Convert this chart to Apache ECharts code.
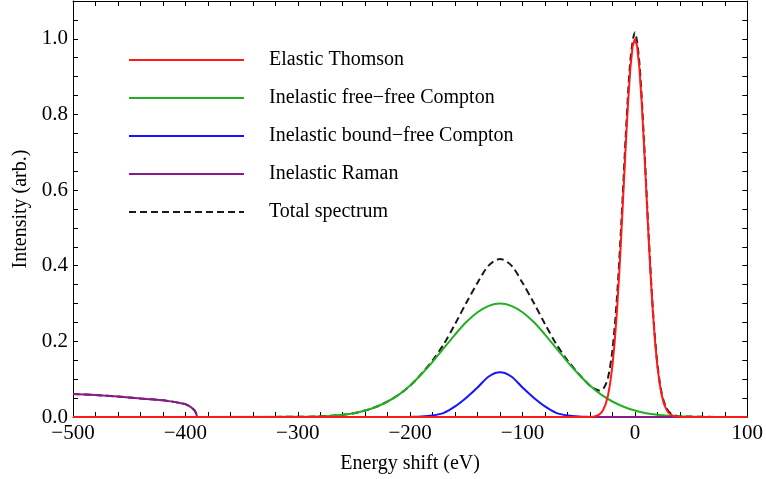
<!DOCTYPE html>
<html>
<head>
<meta charset="utf-8">
<script src="https://cdn.jsdelivr.net/npm/echarts@6/dist/echarts.min.js"></script>
<style>
  html, body { margin: 0; padding: 0; background: #fff; }
  #chart { width: 766px; height: 479px; }
</style>
</head>
<body>
<div id="chart"></div>
<script>
// energy shift (eV) and intensities
var thomsonShift = [-500, -40, -38, -36, -34, -32, -30, -28, -26, -24, -22, -20, -18, -16, -14, -12, -10, -8, -6, -4, -2,
    0, 2, 4, 6, 8, 10, 12, 14, 16, 18, 20, 22, 24, 26, 28, 30, 32, 34, 36, 38, 40, 100];
var thomson = [0, 0.0003, 0.0007, 0.0015, 0.0031, 0.006, 0.011, 0.020, 0.034, 0.056, 0.089, 0.135, 0.198, 0.278, 0.375, 0.487, 0.607, 0.726, 0.835, 0.923, 0.980,
    1.000, 0.980, 0.923, 0.835, 0.726, 0.607, 0.487, 0.375, 0.278, 0.198, 0.135, 0.089, 0.056, 0.034, 0.020, 0.011, 0.006, 0.0031, 0.0015, 0.0007, 0.0003, 0];

var comptonShift = [-500, -300, -290, -280, -270, -260, -250, -240, -230, -220, -210, -200, -190, -180, -170, -160, -150, -140, -130,
    -120, -110, -100, -90, -80, -70, -60, -50, -40, -30, -20, -10, 0, 10, 20, 30, 40, 50, 60, 100];
var freeFree = [0, 0.0005, 0.0009, 0.0018, 0.0033, 0.006, 0.010, 0.017, 0.027, 0.041, 0.059, 0.083, 0.113, 0.146, 0.182, 0.218, 0.251, 0.277, 0.294,
    0.300, 0.294, 0.277, 0.251, 0.218, 0.182, 0.146, 0.113, 0.083, 0.059, 0.041, 0.027, 0.017, 0.010, 0.006, 0.0033, 0.0018, 0.0009, 0.0005, 0];

var boundShift = [-500, -210, -200, -190, -180, -170, -160, -150, -140, -130, -120, -110, -100, -90, -80, -70, -60, -50, -40, -30, 100];
var boundFree = [0, 0, 0.0003, 0.001, 0.004, 0.011, 0.028, 0.051, 0.078, 0.107, 0.118, 0.107, 0.078, 0.051, 0.028, 0.011, 0.004, 0.001, 0.0003, 0, 0];

var ramanShift = [-500, -480, -460, -440, -420, -410, -405, -400, -395, -392, -390.5, -389.5, 100];
var raman = [0.061, 0.058, 0.054, 0.049, 0.044, 0.040, 0.037, 0.034, 0.026, 0.018, 0.010, 0, 0];

var totalShift = [-500, -480, -460, -440, -420, -410, -405, -400, -395, -392, -390.5, -389.5,
    -300, -290, -280, -270, -260, -250, -240, -230, -220, -210, -200, -190, -180, -170, -160, -150, -140, -130,
    -120, -110, -100, -90, -80, -70, -60, -50, -44, -40, -36, -32, -28, -24, -20, -16, -12, -8, -4,
    0, 4, 8, 12, 16, 20, 24, 28, 32, 36, 40, 50, 60, 100];
var total = [0.061, 0.058, 0.054, 0.049, 0.044, 0.040, 0.037, 0.034, 0.026, 0.018, 0.010, 0,
    0.0005, 0.0009, 0.0018, 0.0033, 0.006, 0.010, 0.017, 0.027, 0.041, 0.059, 0.083, 0.114, 0.150, 0.193, 0.246, 0.302, 0.355, 0.401,
    0.418, 0.401, 0.355, 0.302, 0.246, 0.193, 0.150, 0.114, 0.095, 0.083, 0.075, 0.070, 0.075, 0.103, 0.176, 0.313, 0.516, 0.750, 0.943,
    1.017, 0.937, 0.737, 0.496, 0.285, 0.141, 0.061, 0.024, 0.009, 0.004, 0.002, 0.001, 0.0005, 0];

var names = ['Elastic Thomson', 'Inelastic free\u2212free Compton', 'Inelastic bound\u2212free Compton', 'Inelastic Raman', 'Total spectrum'];

function pairs(xs, ys) {
    return xs.map(function (x, i) { return [x, ys[i]]; });
}

var font = '"Liberation Serif", "Times New Roman", serif';
var myChart = echarts.init(document.getElementById('chart'));

function frameX(pos, show) {
    return {
        type: 'value', position: pos, min: -500, max: 100, interval: 20,
        axisLine: { show: true, onZero: false, lineStyle: { color: '#000', width: 1 } },
        axisTick: { show: true, inside: true, length: 5, lineStyle: { color: '#000' } },
        axisLabel: {
            show: show, margin: 6, color: '#000', fontFamily: font, fontSize: 21,
            formatter: function (v) {
                if (v % 100 !== 0) return '';
                return v < 0 ? '\u2212' + (-v) : String(v);
            }
        },
        splitLine: { show: false }
    };
}

function frameY(pos, show) {
    return {
        type: 'value', position: pos, min: 0, max: 1.1, interval: 0.05,
        axisLine: { show: true, onZero: false, lineStyle: { color: '#000', width: 1 } },
        axisTick: { show: true, inside: true, length: 5, lineStyle: { color: '#000' } },
        axisLabel: {
            show: show, margin: 5, color: '#000', fontFamily: font, fontSize: 21,
            formatter: function (v) {
                var k = Math.round(v * 100);
                if (k % 20 !== 0 || k > 100) return '';
                return v.toFixed(1);
            }
        },
        splitLine: { show: false }
    };
}

var xBottom = frameX('bottom', true);
xBottom.name = 'Energy shift (eV)';
xBottom.nameLocation = 'middle';
xBottom.nameGap = 37;
xBottom.nameTextStyle = { color: '#000', fontFamily: font, fontSize: 20 };

var yLeft = frameY('left', true);
yLeft.name = 'Intensity (arb.)';
yLeft.nameLocation = 'middle';
yLeft.nameGap = 41;
yLeft.nameTextStyle = { color: '#000', fontFamily: font, fontSize: 20 };

function line(name, data, color, z, smooth, dashed) {
    return {
        name: name, type: 'line', data: data, xAxisIndex: 0, yAxisIndex: 0,
        showSymbol: false, symbol: 'none', smooth: smooth, z: z,
        lineStyle: { color: color, width: 2, type: dashed ? [7, 4] : 'solid' },
        itemStyle: { color: color }
    };
}

option = {
    animation: false,
    backgroundColor: '#fff',
    grid: { left: 73, right: 18, top: 1, bottom: 61 },
    legend: {
        orient: 'vertical', left: 123, top: 45,
        data: names,
        itemWidth: 115, itemHeight: 20, itemGap: 18,
        itemStyle: { opacity: 0 },
        textStyle: { color: '#000', fontFamily: font, fontSize: 20, padding: [0, 0, 0, 20] }
    },
    xAxis: [xBottom, frameX('top', false)],
    yAxis: [yLeft, frameY('right', false)],
    series: [
        line(names[4], pairs(totalShift, total), '#1a1a1a', 2, 0.3, true),
        line(names[1], pairs(comptonShift, freeFree), '#22b022', 3, 0.3),
        line(names[2], pairs(boundShift, boundFree), '#1414ff', 3, 0.3),
        line(names[3], pairs(ramanShift, raman), '#8a1a8a', 4, false),
        line(names[0], pairs(thomsonShift, thomson), '#ff1a1a', 5, false)
    ]
};

myChart.setOption(option);
</script>
</body>
</html>
